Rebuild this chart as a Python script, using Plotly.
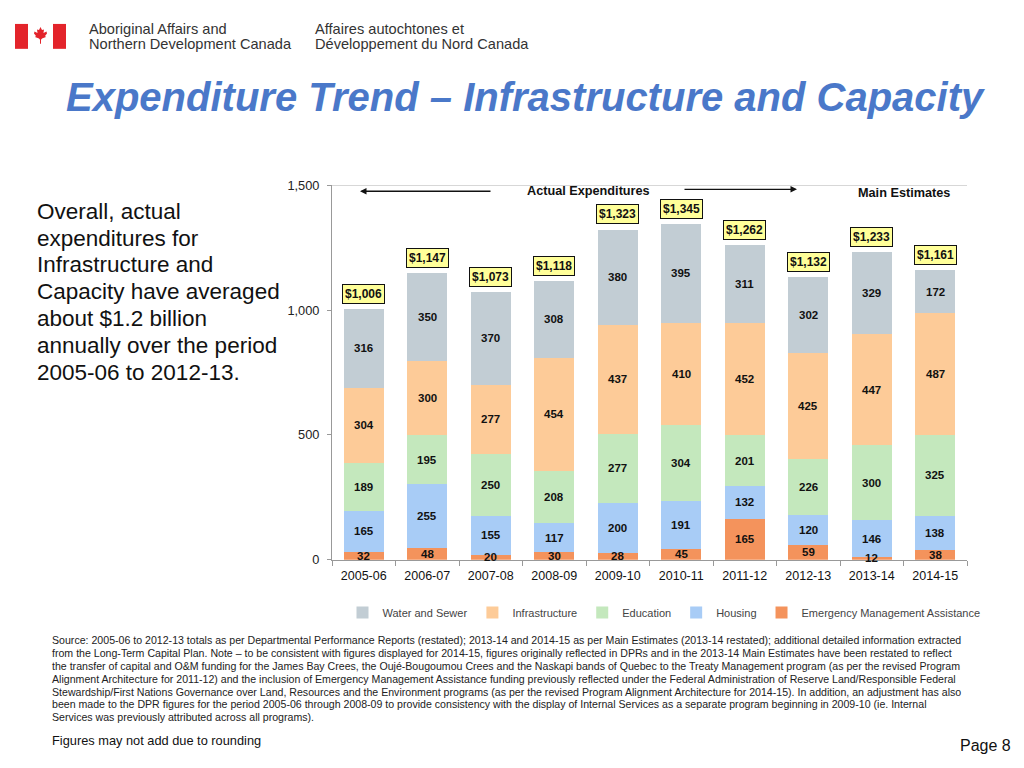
import plotly.graph_objects as go

years = ["2005-06", "2006-07", "2007-08", "2008-09", "2009-10",
         "2010-11", "2011-12", "2012-13", "2013-14", "2014-15"]
water_sewer = [316, 350, 370, 308, 380, 395, 311, 302, 329, 172]
infrastructure = [304, 300, 277, 454, 437, 410, 452, 425, 447, 487]
education = [189, 195, 250, 208, 277, 304, 201, 226, 300, 325]
housing = [165, 255, 155, 117, 200, 191, 132, 120, 146, 138]
emergency = [32, 48, 20, 30, 28, 45, 165, 59, 12, 38]
totals = [1006, 1147, 1073, 1118, 1323, 1345, 1262, 1132, 1233, 1161]
y_ticks = [0, 500, 1000, 1500]

W, H = 1024, 768


def px(x):
    return x / W


def py(y):
    # empirical vertical mapping of the rendered page
    return 1 - (y - 6) / 756


ARIAL = "Liberation Sans, Arial, sans-serif"
NARROW = "Liberation Sans Narrow, Arial Narrow, Liberation Sans, sans-serif"

series = [
    ("Emergency Management Assistance", emergency, "#f4935c"),
    ("Housing", housing, "#a8ccf6"),
    ("Education", education, "#c4e8bd"),
    ("Infrastructure", infrastructure, "#fdcb98"),
    ("Water and Sewer", water_sewer, "#c2cdd4"),
]

fig = go.Figure()
annotations = []
base = [0] * len(years)
for name, vals, col in series:
    fig.add_trace(go.Bar(
        x=years, y=vals, name=name, marker=dict(color=col, line=dict(width=0)),
        hoverinfo="skip",
    ))
    # segment value labels, centred in each segment (drawn above all bars)
    for i, (yr, v) in enumerate(zip(years, vals)):
        annotations.append(dict(
            x=yr, y=base[i] + v / 2, xref="x", yref="y",
            xanchor="center", yanchor="middle", text=str(v), showarrow=False,
            font=dict(family=ARIAL, size=11.5, color="#111111", weight="bold"),
        ))
        base[i] += v


def note(x, y, text, size, color="#111", xanchor="center", yanchor="middle", **kw):
    annotations.append(dict(x=px(x), y=py(y), xref="paper", yref="paper",
                            xanchor=xanchor, yanchor=yanchor, text=text,
                            showarrow=False,
                            font=dict(family=ARIAL, size=size, color=color, **kw)))


# total labels
for yr, t in zip(years, totals):
    annotations.append(dict(
        x=yr, y=t, xref="x", yref="y", yanchor="bottom", xanchor="center", yshift=5,
        text=f"${t:,}", showarrow=False,
        font=dict(family=ARIAL, size=12, color="#111111", weight="bold"),
        bgcolor="#ffff99", bordercolor="#111111", borderwidth=1, borderpad=2,
    ))

# arrows and headers for actual / main estimates
annotations.append(dict(x=px(360), y=py(190), xref="paper", yref="paper",
                        text="", showarrow=True, ax=132, ay=0,
                        arrowhead=2, arrowsize=1, arrowwidth=1.3, arrowcolor="#111"))
annotations.append(dict(x=px(797), y=py(188), xref="paper", yref="paper",
                        text="", showarrow=True, ax=-114, ay=0,
                        arrowhead=2, arrowsize=1, arrowwidth=1.3, arrowcolor="#111"))
note(588, 190, "Actual Expenditures", 12.7, weight="bold")
note(904, 192, "Main Estimates", 12.7, weight="bold")

# Title
note(525, 95, "<b><i>Expenditure Trend – Infrastructure and Capacity</i></b>", 40,
     color="#4a78c9")

# Header texts
for x0, l1, l2 in [(87, "Aboriginal Affairs and", "Northern Development Canada"),
                   (313, "Affaires autochtones et", "Développement du Nord Canada")]:
    note(x0, 27, l1, 14.6, color="#333", xanchor="left")
    note(x0, 42, l2, 14.6, color="#333", xanchor="left")

# Left commentary
left_lines = ["Overall, actual", "expenditures for", "Infrastructure and",
              "Capacity have averaged", "about $1.2 billion",
              "annually over the period", "2005-06 to 2012-13."]
for i, line in enumerate(left_lines):
    note(35, 210 + 27 * i, line, 22.5, xanchor="left")

# Source note
src_lines = [
    "Source: 2005-06 to 2012-13 totals as per Departmental Performance Reports (restated); 2013-14 and 2014-15 as per Main Estimates (2013-14 restated); additional detailed information extracted",
    "from the Long-Term Capital Plan. Note – to be consistent with figures displayed for 2014-15, figures originally reflected in DPRs and in the 2013-14 Main Estimates have been restated to reflect",
    "the transfer of capital and O&M funding for the James Bay Crees, the Oujé-Bougoumou Crees and the Naskapi bands of Quebec to the Treaty Management program (as per the revised Program",
    "Alignment Architecture for 2011-12) and the inclusion of Emergency Management Assistance funding previously reflected under the Federal Administration of Reserve Land/Responsible Federal",
    "Stewardship/First Nations Governance over Land, Resources and the Environment programs (as per the revised Program Alignment Architecture for 2014-15). In addition, an adjustment has also",
    "been made to the DPR figures for the period 2005-06 through 2008-09 to provide consistency with the display of Internal Services as a separate program beginning in 2009-10 (ie. Internal",
    "Services was previously attributed across all programs).",
]
for i, line in enumerate(src_lines):
    note(50, 641 + 12.85 * i, line, 10.6, color="#222", xanchor="left")

note(50, 741, "Figures may not add due to rounding", 12.8, xanchor="left")
note(1013, 746, "Page 8", 16, xanchor="right")

# shapes: top line, flag
shapes = [
    dict(type="line", xref="x domain", yref="y", x0=0, x1=1, y0=1500, y1=1500,
         line=dict(color="#bbbbbb", width=1)),
    dict(type="rect", xref="paper", yref="paper", x0=px(15), x1=px(28), y0=py(47), y1=py(22),
         fillcolor="#e3242b", line=dict(width=0)),
    dict(type="rect", xref="paper", yref="paper", x0=px(53), x1=px(66), y0=py(47), y1=py(22),
         fillcolor="#e3242b", line=dict(width=0)),
]
leaf = [(40.5, 25), (42, 28), (44, 27.5), (43.5, 31), (46.5, 29.5), (47, 31.5),
        (45, 34), (46, 35), (42, 36.5), (41, 38), (41, 42), (40, 42), (40, 38),
        (39, 36.5), (35, 35), (36, 34), (34, 31.5), (34.5, 29.5), (37.5, 31),
        (37, 27.5), (39, 28)]
path = "M " + " L ".join(f"{px(a):.5f},{py(b):.5f}" for a, b in leaf) + " Z"
shapes.append(dict(type="path", xref="paper", yref="paper", path=path,
                   fillcolor="#e3242b", line=dict(width=0)))

fig.update_layout(
    width=W, height=H, margin=dict(l=0, r=0, t=0, b=0),
    paper_bgcolor="white", plot_bgcolor="white",
    barmode="stack", bargap=0.37,
    showlegend=True,
    legend=dict(orientation="h", x=px(664), xanchor="center", y=py(613), yanchor="middle",
                traceorder="reversed",
                font=dict(family=NARROW, size=11, color="#444"),
                itemwidth=30),
    xaxis=dict(domain=[px(332), px(967)], type="category",
               showline=True, linecolor="#999", linewidth=1,
               ticks="outside", tickson="boundaries", ticklen=5, tickcolor="#999",
               ticklabelstandoff=4,
               tickfont=dict(family=NARROW, size=12.5, color="#111"), showgrid=False),
    yaxis=dict(domain=[py(560), py(184)], range=[0, 1500],
               tickvals=y_ticks, tickformat=",",
               showline=True, linecolor="#999", linewidth=1,
               ticks="outside", ticklen=4, tickcolor="#999",
               ticklabelstandoff=5,
               tickfont=dict(family=ARIAL, size=12.8, color="#222"), showgrid=False,
               zeroline=False),
    annotations=annotations, shapes=shapes,
)

fig.write_html("out.html", config={"displayModeBar": False},
               post_script="document.body.style.margin='0';document.body.style.overflow='hidden';")
